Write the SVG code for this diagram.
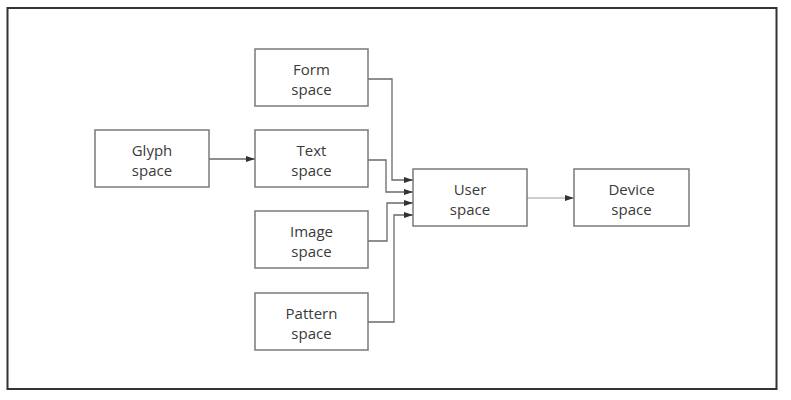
<svg xmlns="http://www.w3.org/2000/svg" width="791" height="400" viewBox="0 0 791 400">
<defs>
<marker id="ah" markerWidth="9" markerHeight="6" refX="9" refY="3" orient="auto" markerUnits="userSpaceOnUse">
<path d="M0,0 L9,3 L0,6 Z" fill="#333"/>
</marker>
<style>
.box{fill:#fff;stroke:#7a7a7a;stroke-width:1.5}
.t{font-family:"Open Sans","Liberation Sans",sans-serif;font-size:15px;fill:#3a3a3a;text-anchor:middle}
.c{fill:none;stroke:#6a6a6a;stroke-width:1.3;marker-end:url(#ah)}
.l{stroke:#9a9a9a;stroke-width:1}
</style>
</defs>
<rect x="0" y="0" width="791" height="400" fill="#fff"/>
<rect x="7.5" y="8" width="769" height="381" fill="none" stroke="#333" stroke-width="2"/>
<g id="connectors">
<path class="c" d="M209,159 H255"/>
<path class="c" d="M368,79 H392 V180 H413"/>
<path class="c" d="M368,160 H386 V192 H413"/>
<path class="c" d="M368,241 H387 V203 H413"/>
<path class="c" d="M368,322 H394 V215 H413"/>
<path class="c l" d="M527,198 H574"/>
</g>
<g id="form"><rect class="box" x="255" y="49" width="113" height="57"/><text class="t" x="311.5" y="75">Form</text><text class="t" x="311.5" y="95">space</text></g>
<g id="glyph"><rect class="box" x="95" y="130" width="114" height="57"/><text class="t" x="152" y="156">Glyph</text><text class="t" x="152" y="176">space</text></g>
<g id="text"><rect class="box" x="255" y="130" width="113" height="57"/><text class="t" x="311.5" y="156">Text</text><text class="t" x="311.5" y="176">space</text></g>
<g id="image"><rect class="box" x="255" y="211" width="113" height="57"/><text class="t" x="311.5" y="237">Image</text><text class="t" x="311.5" y="257">space</text></g>
<g id="pattern"><rect class="box" x="255" y="293" width="113" height="57"/><text class="t" x="311.5" y="319">Pattern</text><text class="t" x="311.5" y="339">space</text></g>
<g id="user"><rect class="box" x="413" y="169" width="114" height="57"/><text class="t" x="470" y="195">User</text><text class="t" x="470" y="215">space</text></g>
<g id="device"><rect class="box" x="574" y="169" width="115" height="57"/><text class="t" x="631.5" y="195">Device</text><text class="t" x="631.5" y="215">space</text></g>
</svg>
